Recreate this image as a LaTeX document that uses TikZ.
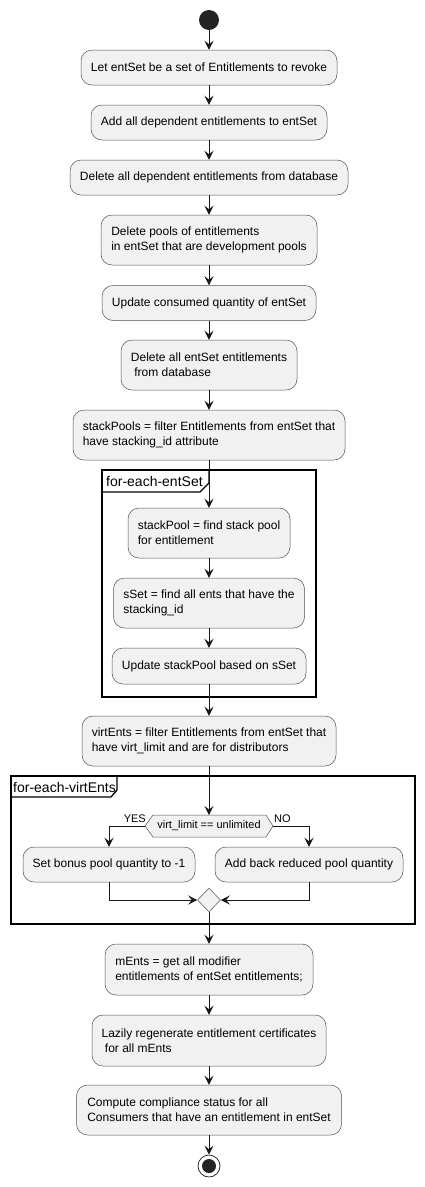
\documentclass[tikz,border=0pt]{standalone}
\usepackage{fontspec}
\setmainfont{Liberation Sans}
\usetikzlibrary{arrows.meta,shapes.geometric}
\definecolor{actfill}{HTML}{F1F1F1}
\definecolor{lineclr}{HTML}{181818}
\tikzset{
  act/.style={draw=lineclr!75, line width=0.5pt, fill=actfill, rounded corners=11pt,
    align=left, font=\fontsize{12}{15}\selectfont, inner sep=0pt},
  conn/.style={draw=lineclr, line width=1pt, -{Stealth[length=9pt,width=9pt,inset=3.5pt]}},
  plain/.style={draw=lineclr, line width=1pt},
  frame/.style={draw=black, line width=1.3pt},
  framelab/.style={font=\fontsize{14}{16}\selectfont, anchor=base west, inner sep=0pt},
  small/.style={font=\fontsize{11}{13}\selectfont, inner sep=0pt}
}
\begin{document}
\begin{tikzpicture}[x=1pt,y=-1pt]
\useasboundingbox (0,0) rectangle (425,1187);
% frames
\draw[frame] (102,470) rectangle (316,697);
\draw[frame] (102,492) -- (200,492) -- (209,483) -- (209,470);
\node[framelab] (f1lab) at (106,486) {for-each-entSet};
\draw[frame] (11,776) rectangle (415,924);
\draw[frame] (11,797) -- (111,797) -- (117,790) -- (117,776);
\node[framelab] (f2lab) at (13,792) {for-each-virtEnts};
% start
\node[circle, fill=lineclr!95, minimum size=20pt, inner sep=0pt] (start) at (209,20) {};
% activities
\node[act, minimum width=256pt, minimum height=35pt] (b1) at (209,67.5) {Let entSet be a set of Entitlements to revoke};
\node[act, minimum width=236pt, minimum height=35pt] (b2) at (209,122.5) {Add all dependent entitlements to entSet};
\node[act, minimum width=278pt, minimum height=35pt] (b3) at (209,177.5) {Delete all dependent entitlements from database};
\node[act, minimum width=216pt, minimum height=50pt] (b4) at (209,240) {Delete pools of entitlements\\in entSet that are development pools};
\node[act, minimum width=214pt, minimum height=35pt] (b5) at (209,303) {Update consumed quantity of entSet};
\node[act, minimum width=176pt, minimum height=50pt] (b6) at (209,365) {Delete all entSet entitlements\\\ from database};
\node[act, minimum width=272pt, minimum height=50pt] (b7) at (209,435) {stackPools = filter Entitlements from entSet that\\have stacking\_id attribute};
\node[act, minimum width=162pt, minimum height=50pt] (b8) at (209,533) {stackPool = find stack pool\\for entitlement};
\node[act, minimum width=191pt, minimum height=50pt] (b9) at (209,603) {sSet = find all ents that have the\\stacking\_id};
\node[act, minimum width=194pt, minimum height=36pt] (b10) at (209,666) {Update stackPool based on sSet};
\node[act, minimum width=254pt, minimum height=50pt] (b11) at (209,741) {virtEnts = filter Entitlements from entSet that\\have virt\_limit and are for distributors};
% decision
\fill[actfill] (145,826) -- (153,815) -- (266,815) -- (273,826) -- (266,837) -- (153,837) -- cycle;
\draw[draw=lineclr!75, line width=0.5pt] (145,826) -- (153,815) -- (266,815) -- (273,826) -- (266,837) -- (153,837) -- cycle;
\node[small] (dec) at (209,826) {virt\_limit == unlimited};
\coordinate (decT) at (209,815);
\coordinate (decL) at (145,826);
\coordinate (decR) at (273,826);
\node[small, anchor=base east] (yes) at (146,822.5) {YES};
\node[small, anchor=base west] (no) at (274,822.5) {NO};
\node[act, minimum width=172pt, minimum height=35pt] (lb) at (109,864.5) {Set bonus pool quantity to -1};
\node[act, minimum width=188pt, minimum height=35pt] (rb) at (309,864.5) {Add back reduced pool quantity};
\node[diamond, draw=lineclr!75, line width=0.5pt, fill=actfill, inner sep=0pt, minimum width=23pt, minimum height=24pt] (mg) at (209,900) {};
\node[act, minimum width=208pt, minimum height=51pt] (b12) at (209,969.5) {mEnts = get all modifier\\entitlements of entSet entitlements;};
\node[act, minimum width=234pt, minimum height=51pt] (b13) at (209,1040.5) {Lazily regenerate entitlement certificates\\\ for all mEnts};
\node[act, minimum width=265pt, minimum height=50pt] (b14) at (209,1110) {Compute compliance status for all\\Consumers that have an entitlement in entSet};
% end
\node[circle, draw=lineclr, line width=0.7pt, fill=white, minimum size=22pt, inner sep=0pt] (end) at (209,1166) {};
\node[circle, fill=lineclr!95, minimum size=14pt, inner sep=0pt] (endin) at (209,1166) {};
% connectors
\draw[conn] (start) -- (b1);
\draw[conn] (b1) -- (b2);
\draw[conn] (b2) -- (b3);
\draw[conn] (b3) -- (b4);
\draw[conn] (b4) -- (b5);
\draw[conn] (b5) -- (b6);
\draw[conn] (b6) -- (b7);
\draw[conn] (b7) -- (b8);
\draw[conn] (b8) -- (b9);
\draw[conn] (b9) -- (b10);
\draw[conn] (b10) -- (b11);
\draw[conn] (b11) -- (decT);
\draw[conn] (decL) -| (lb.north);
\draw[conn] (decR) -| (rb.north);
\draw[conn] (lb.south) |- (mg.west);
\draw[conn] (rb.south) |- (mg.east);
\draw[conn] (mg) -- (b12);
\draw[conn] (b12) -- (b13);
\draw[conn] (b13) -- (b14);
\draw[conn] (b14) -- (end);
\end{tikzpicture}
\end{document}
